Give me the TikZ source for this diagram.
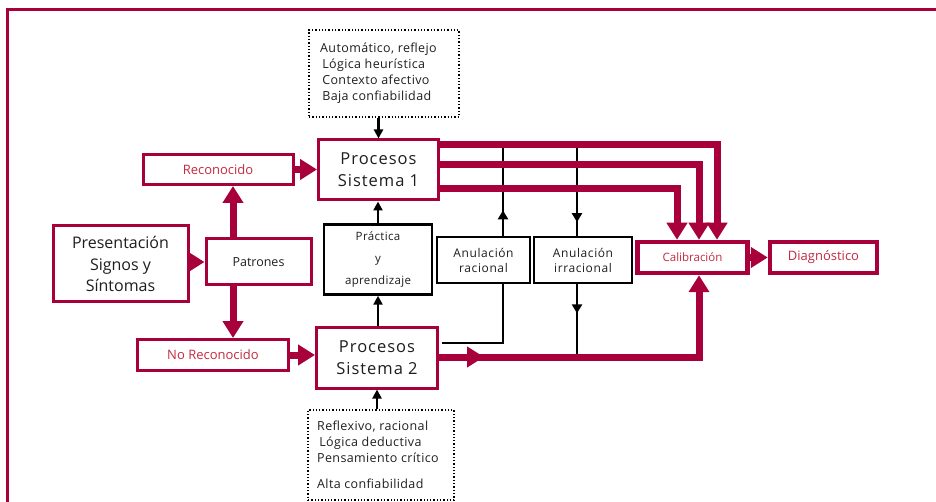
\documentclass[tikz,border=0pt]{standalone}
\usepackage{fontspec}
\setmainfont{Open Sans}
\usetikzlibrary{arrows.meta,decorations.markings}
\definecolor{crim}{HTML}{A8003A}
\definecolor{crimtxt}{HTML}{C42A40}
\definecolor{ink}{HTML}{1E1E1E}
\begin{document}
\begin{tikzpicture}[x=1pt,y=-1pt,
  redbox/.style={draw=crim,line width=3pt,fill=white,inner sep=0pt,align=center,text=ink},
  calbox/.style={draw=crim,line width=4.5pt,fill=white,inner sep=0pt,align=center,text=crimtxt},
  blkbox/.style={draw=black,line width=2.5pt,fill=white,inner sep=0pt,align=center,text=ink},
  dotbox/.style={draw=black,line width=1.3pt,dotted,inner sep=0pt,text=ink},
  bigarrow/.style={draw=crim,line width=7pt,-{Triangle[length=17pt,width=20pt]}},
  bigline/.style={draw=crim,line width=7pt},
  thinarrow/.style={draw=black,line width=2.4pt,-{Triangle[length=9pt,width=9pt]}},
  thinline/.style={draw=black,line width=2.4pt},
  midup/.style={postaction={decorate,decoration={markings,mark=at position #1 with {\arrow{Triangle[length=9pt,width=10pt]}}}}},
]
\useasboundingbox (0,0) rectangle (936,502);
% frame
\draw[crim,line width=3pt] (7,502) -- (7,10) -- (936,10);

% nodes
\node[dotbox,minimum width=150pt,minimum height=87pt] (dtop) at (384,73.5) {};
\node[text=ink,font=\fontsize{12.5}{16}\selectfont\addfontfeatures{LetterSpace=3},align=left,anchor=north west,inner sep=0pt] (dtoptxt) at (320,43) {Automático, reflejo\\\,Lógica heurística\\\,Contexto afectivo\\\,Baja confiabilidad};
\node[dotbox,minimum width=146pt,minimum height=90pt] (dbot) at (381,455) {};
\node[text=ink,font=\fontsize{12.5}{16}\selectfont\addfontfeatures{LetterSpace=3},align=left,anchor=north west,inner sep=0pt] (dbottxt) at (317,421) {Reflexivo, racional\\\,Lógica deductiva\\Pensamiento crítico\\[10pt]Alta confiabilidad};

\node[redbox,minimum width=120pt,minimum height=60pt,font=\fontsize{16.5}{22}\selectfont\addfontfeatures{LetterSpace=6}] (ps1) at (378.5,170) {Procesos\\Sistema 1};
\node[redbox,minimum width=121pt,minimum height=61pt,font=\fontsize{16.5}{22}\selectfont\addfontfeatures{LetterSpace=6}] (ps2) at (377,357.5) {Procesos\\Sistema 2};
\node[redbox,minimum width=150pt,minimum height=30pt,text=crimtxt,font=\fontsize{13}{15}\selectfont] (rec) at (218,169.5) {Reconocido};
\node[redbox,minimum width=151pt,minimum height=31pt,text=crimtxt,font=\fontsize{13}{15}\selectfont] (norec) at (213,355) {No Reconocido};
\node[redbox,minimum width=135pt,minimum height=76pt,font=\fontsize{16}{21.5}\selectfont] (pres) at (120.5,264) {Presentación\\Signos y\\Síntomas};
\node[redbox,minimum width=105pt,minimum height=46pt,font=\fontsize{12.5}{15}\selectfont] (pat) at (258.5,262) {Patrones};
\node[blkbox,minimum width=108pt,minimum height=70pt,font=\fontsize{11.5}{13}\selectfont\addfontfeatures{LetterSpace=3}] (prac) at (378,259.5) {Práctica\\[9pt]y\\[9pt]aprendizaje};
\node[blkbox,minimum width=93pt,minimum height=46pt,font=\fontsize{12}{15}\selectfont\addfontfeatures{LetterSpace=5}] (arac) at (483.5,260) {Anulación\\racional};
\node[blkbox,minimum width=98pt,minimum height=46pt,font=\fontsize{12}{15}\selectfont\addfontfeatures{LetterSpace=5}] (airr) at (583,260) {Anulación\\irracional};
\node[calbox,minimum width=110pt,minimum height=31pt,font=\fontsize{11.5}{13}\selectfont] (cal) at (692.5,257.5) {Calibración};
\node[calbox,minimum width=107pt,minimum height=31pt,font=\fontsize{13}{15}\selectfont] (diag) at (823.5,257.5) {Diagnóstico};

% helper coordinates
\coordinate (ya) at (0,145);
\coordinate (yb) at (0,165);
\coordinate (yc) at (0,189);
\coordinate (yk) at (0,343);
\coordinate (yr) at (0,357);
\coordinate (xa) at (717,0);
\coordinate (xb) at (699,0);
\coordinate (xc) at (677,0);
\coordinate (xrac) at (503,0);
\coordinate (xirr) at (577,0);
\coordinate (xk) at (442,0);
\coordinate (xmid) at (484,0);
\coordinate (xmid2) at (474,0);
\coordinate (xpat) at (233,0);

% thin black arrows
\draw[thinarrow] (dtop.south -| ps1.north) -- (ps1.north);
\draw[thinarrow] (dbot.north -| ps2.south) -- (ps2.south);
\draw[thinarrow] (ps2.north -| prac.south) -- (prac.south);
\draw[thinarrow] (prac.north) -- (prac.north |- ps1.south);

% anulacion lines
\draw[thinline] (xk |- yk) -- (xrac |- yk) -- (xrac |- arac.south);
\draw[thinline,midup=0.28] (xrac |- arac.north) -- (xrac |- ya);
\draw[thinline,midup=0.85] (xirr |- ya) -- (xirr |- airr.north);
\draw[thinline,midup=0.4] (xirr |- airr.south) -- (xirr |- yr);

% red arrows left side
\draw[bigarrow] (rec.east) -- (rec.east -| ps1.west);
\draw[bigarrow] (norec.east) -- (norec.east -| ps2.west);
\draw[bigarrow] (pres.east |- pat.west) -- (pat.west);
\draw[bigarrow] (xpat |- pat.north) -- (xpat |- rec.south);
\draw[bigarrow] (xpat |- pat.south) -- (xpat |- norec.north);

% red lines from sistema 1 to calibracion
\draw[bigarrow] (ps1.east |- ya) -| (xa |- cal.north);
\draw[bigarrow] (ps1.east |- yb) -| (xb |- cal.north);
\draw[bigarrow] (ps1.east |- yc) -| (xc |- cal.north);

% red line from sistema 2
\draw[bigarrow] (xmid2 |- yr) -| (xb |- cal.south);
\draw[bigarrow] (ps2.east |- yr) -- (xmid |- yr);
\draw[bigarrow] (cal.east) -- (diag.west);
\end{tikzpicture}
\end{document}
